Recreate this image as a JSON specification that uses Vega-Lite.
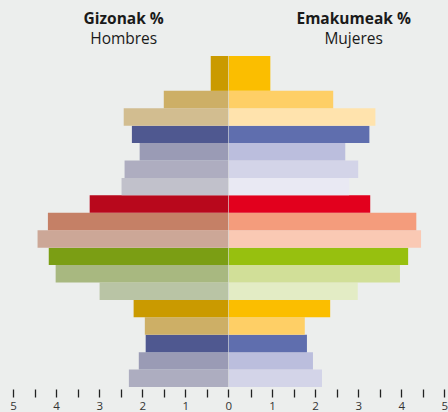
{
  "$schema": "https://vega.github.io/schema/vega-lite/v6.json",
  "background": "#eceeed",
  "padding": {"left": 9, "top": 12, "right": 0, "bottom": 0},
  "spacing": 0,
  "bounds": "flush",
  "config": {
    "view": {"stroke": null},
    "axis": {
      "domain": false, "grid": false, "tickSize": 8, "tickWidth": 1.3, "tickColor": "#222222",
      "offset": 2, "labelFont": "Open Sans", "labelFontSize": 11.5, "labelColor": "#333333",
      "labelPadding": 3, "labelFlush": false, "labelOverlap": false, "title": null
    },
    "title": {
      "font": "Open Sans", "subtitleFont": "Open Sans", "fontSize": 15.5, "subtitleFontSize": 15.5,
      "fontWeight": "bold", "color": "#1a1a1a", "subtitleColor": "#1a1a1a", "anchor": "middle",
      "offset": 9, "subtitlePadding": 4
    }
  },
  "datasets": {
    "hombres": [
      {"age": "0-4", "start": 0, "end": 5, "pct": 2.31},
      {"age": "5-9", "start": 5, "end": 10, "pct": 2.08},
      {"age": "10-14", "start": 10, "end": 15, "pct": 1.92},
      {"age": "15-19", "start": 15, "end": 20, "pct": 1.94},
      {"age": "20-24", "start": 20, "end": 25, "pct": 2.20},
      {"age": "25-29", "start": 25, "end": 30, "pct": 2.99},
      {"age": "30-34", "start": 30, "end": 35, "pct": 4.01},
      {"age": "35-39", "start": 35, "end": 40, "pct": 4.17},
      {"age": "40-44", "start": 40, "end": 45, "pct": 4.43},
      {"age": "45-49", "start": 45, "end": 50, "pct": 4.19},
      {"age": "50-54", "start": 50, "end": 55, "pct": 3.22},
      {"age": "55-59", "start": 55, "end": 60, "pct": 2.48},
      {"age": "60-64", "start": 60, "end": 65, "pct": 2.41},
      {"age": "65-69", "start": 65, "end": 70, "pct": 2.06},
      {"age": "70-74", "start": 70, "end": 75, "pct": 2.24},
      {"age": "75-79", "start": 75, "end": 80, "pct": 2.43},
      {"age": "80-84", "start": 80, "end": 85, "pct": 1.50},
      {"age": "85+", "start": 85, "end": 95, "pct": 0.41}
    ],
    "mujeres": [
      {"age": "0-4", "start": 0, "end": 5, "pct": 2.16},
      {"age": "5-9", "start": 5, "end": 10, "pct": 1.95},
      {"age": "10-14", "start": 10, "end": 15, "pct": 1.81},
      {"age": "15-19", "start": 15, "end": 20, "pct": 1.76},
      {"age": "20-24", "start": 20, "end": 25, "pct": 2.35},
      {"age": "25-29", "start": 25, "end": 30, "pct": 2.99},
      {"age": "30-34", "start": 30, "end": 35, "pct": 3.97},
      {"age": "35-39", "start": 35, "end": 40, "pct": 4.16},
      {"age": "40-44", "start": 40, "end": 45, "pct": 4.46},
      {"age": "45-49", "start": 45, "end": 50, "pct": 4.35},
      {"age": "50-54", "start": 50, "end": 55, "pct": 3.28},
      {"age": "55-59", "start": 55, "end": 60, "pct": 2.79},
      {"age": "60-64", "start": 60, "end": 65, "pct": 3.00},
      {"age": "65-69", "start": 65, "end": 70, "pct": 2.70},
      {"age": "70-74", "start": 70, "end": 75, "pct": 3.26},
      {"age": "75-79", "start": 75, "end": 80, "pct": 3.40},
      {"age": "80-84", "start": 80, "end": 85, "pct": 2.42},
      {"age": "85+", "start": 85, "end": 95, "pct": 0.96}
    ]
  },
  "resolve": {"scale": {"x": "independent", "y": "independent", "color": "independent"}},
  "hconcat": [
    {
      "width": 215.4,
      "height": 331,
      "data": {"name": "hombres"},
      "title": {"text": "Gizonak %", "subtitle": "Hombres", "dx": 3},
      "mark": {"type": "rect"},
      "encoding": {
        "x": {"field": "pct", "type": "quantitative",
              "scale": {"domain": [0, 5], "reverse": true, "nice": false, "zero": true},
              "axis": {"values": [0, 0.5, 1, 1.5, 2, 2.5, 3, 3.5, 4, 4.5, 5],
                       "labelExpr": "datum.value % 1 === 0 ? format(datum.value, 'd') : ''"}},
        "x2": {"datum": 0},
        "y": {"field": "start", "type": "quantitative", "scale": {"domain": [0, 95], "nice": false}, "axis": null},
        "y2": {"field": "end"},
        "color": {"field": "age", "type": "nominal", "legend": null,
          "scale": {
            "domain": ["0-4","5-9","10-14","15-19","20-24","25-29","30-34","35-39","40-44","45-49","50-54","55-59","60-64","65-69","70-74","75-79","80-84","85+"],
            "range": ["#adadc0","#9a9bb5","#4f5890","#cdaf66","#ca9a00","#b9c4a5","#a8b880","#7b9e14","#cca797","#c58066","#b8081c","#c1c1cb","#aeadc0","#9a9bb5","#4f5890","#d2bd90","#cdaf66","#ca9a00"]
          }}
      }
    },
    {
      "width": 215.3,
      "height": 331,
      "data": {"name": "mujeres"},
      "title": {"text": "Emakumeak %", "subtitle": "Mujeres", "dx": 17},
      "mark": {"type": "rect"},
      "encoding": {
        "x": {"field": "pct", "type": "quantitative",
              "scale": {"domain": [0, 5], "nice": false, "zero": true},
              "axis": {"values": [0, 0.5, 1, 1.5, 2, 2.5, 3, 3.5, 4, 4.5, 5],
                       "labelExpr": "datum.value % 1 === 0 && datum.value > 0 ? format(datum.value, 'd') : ''",
                       "tickOpacity": {"condition": {"test": "datum.value === 0", "value": 0}, "value": 1}}},
        "x2": {"datum": 0},
        "y": {"field": "start", "type": "quantitative", "scale": {"domain": [0, 95], "nice": false}, "axis": null},
        "y2": {"field": "end"},
        "color": {"field": "age", "type": "nominal", "legend": null,
          "scale": {
            "domain": ["0-4","5-9","10-14","15-19","20-24","25-29","30-34","35-39","40-44","45-49","50-54","55-59","60-64","65-69","70-74","75-79","80-84","85+"],
            "range": ["#d3d4e8","#bbbedd","#5f6eae","#fecf66","#fbbe00","#e3ecc5","#d1df98","#97c00f","#fac9b4","#f49c7c","#e2001d","#e9e9f3","#d3d4e8","#bbbedd","#5f6eae","#ffe3ad","#fecf66","#fbbe00"]
          }}
      }
    }
  ]
}
